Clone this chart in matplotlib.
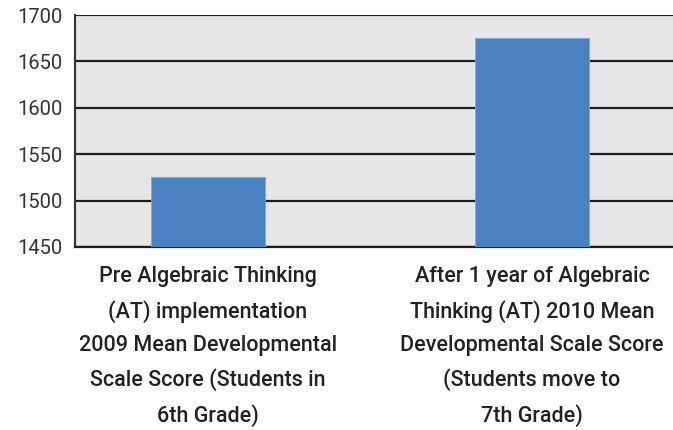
import matplotlib
matplotlib.use('Agg')
import matplotlib.pyplot as plt

# ── Data ──────────────────────────────────────────────────────────────────────
categories = [
    'Pre Algebraic Thinking\n(AT) implementation\n2009 Mean Developmental\nScale Score (Students in\n6th Grade)',
    'After 1 year of Algebraic\nThinking (AT) 2010 Mean\nDevelopmental Scale Score\n(Students move to\n7th Grade)',
]
scores = [1525, 1675]
y_ticks = [1450, 1500, 1550, 1600, 1650, 1700]

BAR_COL = '#4a81c0'
BG_COL = '#e5e6e8'
FONT = ['Roboto', 'DejaVu Sans']

fig = plt.figure(figsize=(6.73, 4.30), dpi=100)
ax = fig.add_axes([0.1114, 0.4256, 0.8886, 0.5394])
ax.set_facecolor(BG_COL)

x = list(range(len(categories)))
ax.bar(x, [s - y_ticks[0] for s in scores], bottom=y_ticks[0], width=0.352,
       color=BAR_COL, edgecolor='#7ea6d6', linewidth=0.6, zorder=3)

ax.set_ylim(y_ticks[0], y_ticks[-1])
ax.set_xlim(-0.41, 1.435)
ax.set_yticks(y_ticks)
ax.set_yticklabels([str(v) for v in y_ticks], family=FONT, fontsize=14.5, color='#333333')
ax.set_xticks(x)
ax.set_xticklabels(categories, family=FONT, fontsize=15.5, color='#222222',
                   fontweight='medium', linespacing=1.72)
ax.tick_params(axis='y', length=0, pad=9)
ax.tick_params(axis='x', length=0, pad=14)

ax.yaxis.grid(True, color='#1e1e1e', linewidth=1.6, zorder=1)
ax.set_axisbelow(True)
for side in ['top', 'right']:
    ax.spines[side].set_visible(False)
ax.spines['left'].set_color('#333333')
ax.spines['left'].set_linewidth(1.5)
ax.spines['bottom'].set_color('#1e1e1e')
ax.spines['bottom'].set_linewidth(1.6)

fig.savefig('out.png', dpi=100, facecolor='white')
